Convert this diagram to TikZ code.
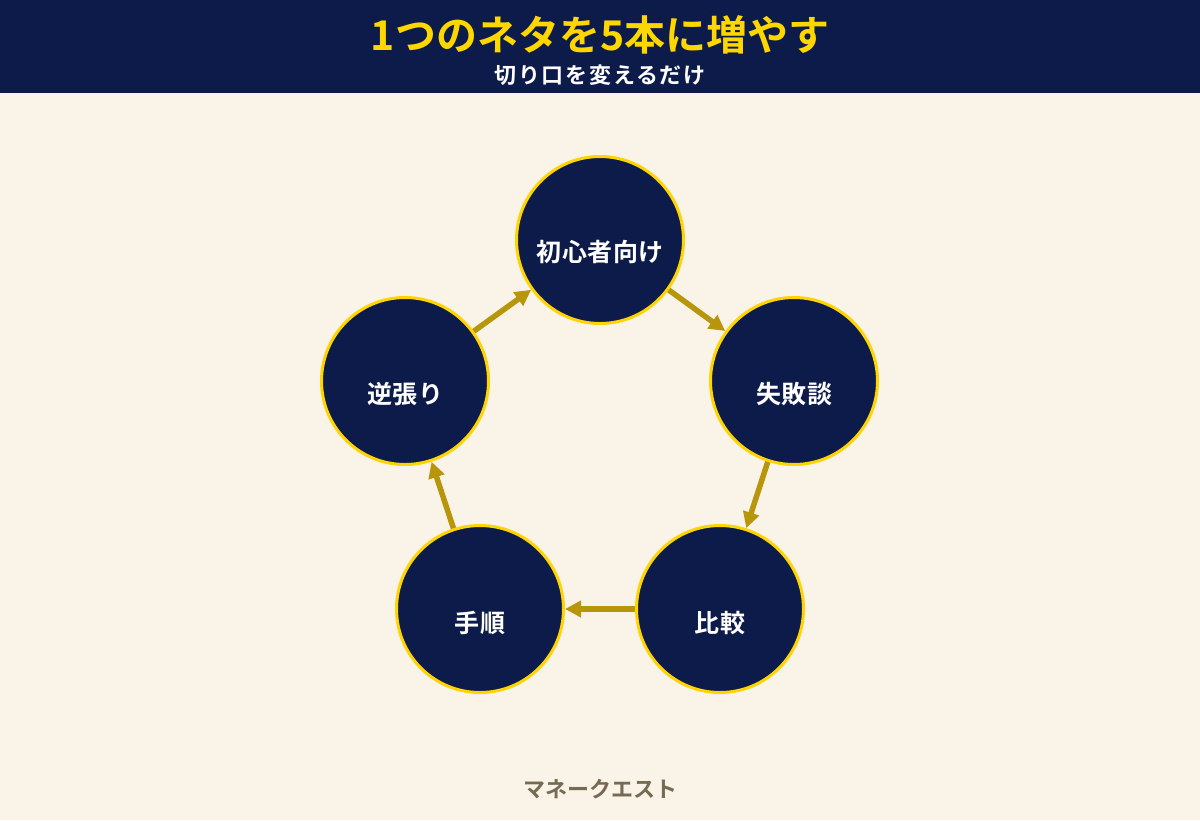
\documentclass[tikz,border=0pt]{standalone}
\usepackage{fontspec}
\newfontfamily\jp{Noto Sans CJK JP}[BoldFont={Noto Sans CJK JP Bold}]
\usetikzlibrary{arrows.meta}
\definecolor{navy}{HTML}{0D1B4A}
\definecolor{cream}{HTML}{FAF3E8}
\definecolor{ttlyellow}{HTML}{FFD700}
\definecolor{ringyellow}{HTML}{FFD400}
\definecolor{gold}{HTML}{B8960C}
\definecolor{footbrown}{HTML}{776A52}
\tikzset{
  topic/.style={circle, fill=navy, draw=ringyellow, line width=3pt, minimum size=167pt, inner sep=0pt},
  topiclabel/.style={text=white, font=\jp\bfseries\fontsize{25}{28}\selectfont\addfontfeature{LetterSpace=2}},
  flow/.style={draw=gold, line width=5.5pt, -{Triangle[length=16pt,width=16pt]}},
}
\begin{document}
\begin{tikzpicture}[x=1pt,y=-1pt]
\useasboundingbox (0,0) rectangle (1200,820);
\fill[cream] (0,0) rectangle (1200,820);
\fill[navy] (0,0) rectangle (1200,93);
\node[text=ttlyellow, font=\jp\bfseries\fontsize{41}{45}\selectfont] (title) at (600,35) {1つのネタを5本に増やす};
\node[text=white, font=\jp\bfseries\fontsize{22}{25}\selectfont\addfontfeature{LetterSpace=8}] (subtitle) at (600,75) {切り口を変えるだけ};

\node[topic] (a) at (600,240) {};
\node[topic] (b) at (794,381) {};
\node[topic] (c) at (720,609) {};
\node[topic] (d) at (480,609) {};
\node[topic] (e) at (405,381) {};

\node[topiclabel] (la) at (600,252) {初心者向け};
\node[topiclabel] (lb) at (794,394) {失敗談};
\node[topiclabel] (lc) at (720,623) {比較};
\node[topiclabel] (ld) at (480,623) {手順};
\node[topiclabel] (le) at (405,394) {逆張り};

\draw[flow] (a) -- (b);
\draw[flow] (b) -- (c);
\draw[flow] (c) -- (d);
\draw[flow] (d) -- (e);
\draw[flow] (e) -- (a);

\node[text=footbrown, font=\jp\bfseries\fontsize{22}{25}\selectfont] (foot) at (600,789) {マネークエスト};
\end{tikzpicture}
\end{document}
